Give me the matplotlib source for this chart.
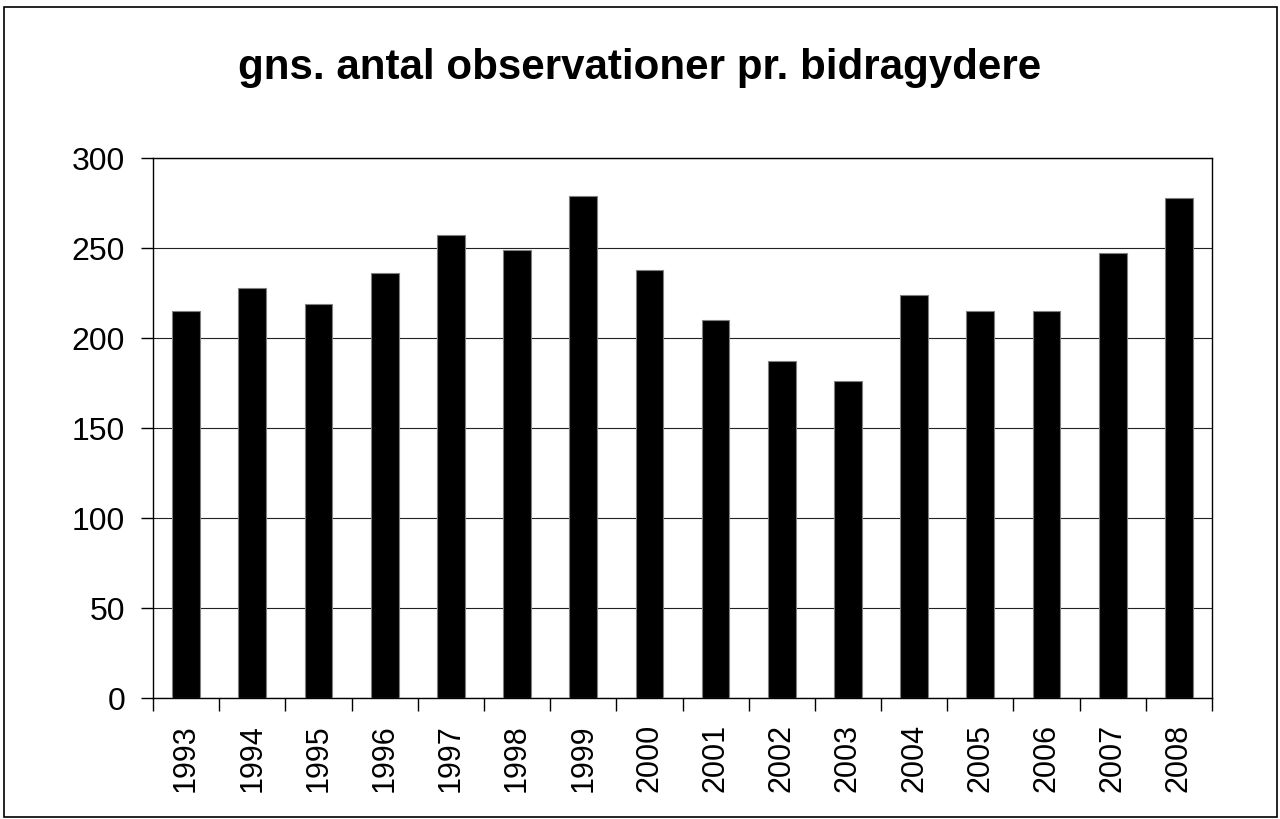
import matplotlib.pyplot as plt
import numpy as np

plt.rcParams['font.family'] = ['Liberation Sans', 'DejaVu Sans']

years = ['1993', '1994', '1995', '1996', '1997', '1998', '1999', '2000',
         '2001', '2002', '2003', '2004', '2005', '2006', '2007', '2008']
values = [215, 228, 219, 236, 257, 249, 279, 238,
          210, 187, 176, 224, 215, 215, 247, 278]

fig = plt.figure(figsize=(12.8, 8.2), dpi=100)
ax = fig.add_axes([153 / 1280, 1 - 699 / 820, (1212 - 153) / 1280, (699 - 159) / 820])

x = np.arange(len(years))
ax.bar(x, values, width=0.42, color='black', edgecolor='#808080', linewidth=0.8, zorder=3)

ax.set_xlim(-0.5, len(years) - 0.5)
ax.set_ylim(0, 300)
ax.set_yticks(range(0, 301, 50))
ax.yaxis.grid(True, color='#222222', linewidth=0.8, zorder=0)

ax.set_xticks(x)
ax.set_xticklabels(years, rotation=90, fontsize=22)
ax.set_xticks(np.arange(-0.5, len(years)), minor=True)
ax.tick_params(axis='x', which='major', length=0, pad=18)
ax.tick_params(axis='x', which='minor', length=9, width=1, direction='out')
ax.tick_params(axis='y', labelsize=23, length=9, width=1, direction='out', pad=11)

for s in ax.spines.values():
    s.set_linewidth(1)
    s.set_color('black')

fig.text(0.5, 1 - 68 / 820, 'gns. antal observationer pr. bidragydere',
         ha='center', va='center', fontsize=30.3, fontweight='bold')

# outer frame
fig.patches.append(plt.Rectangle((4 / 1280, 2 / 820), 1273 / 1280, 810 / 820,
                                 transform=fig.transFigure, fill=False,
                                 edgecolor='black', linewidth=1.2))

fig.savefig('out.png', dpi=100)
